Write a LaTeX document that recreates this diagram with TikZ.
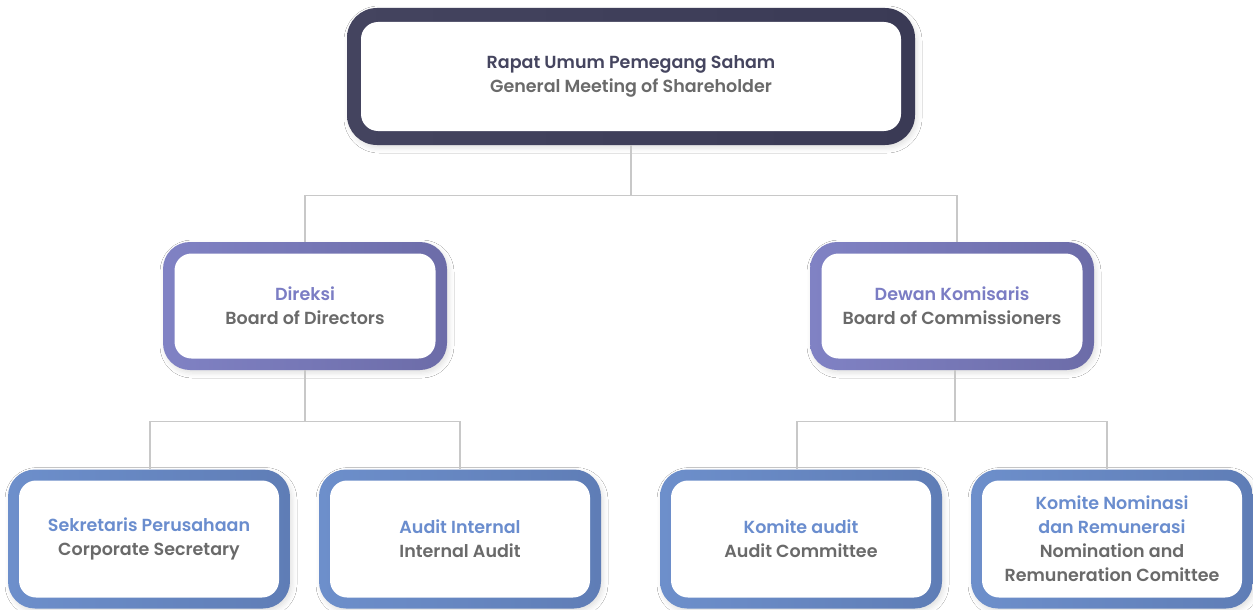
\documentclass[tikz,border=0pt]{standalone}
\usepackage{fontspec}
\setmainfont{Poppins}[BoldFont={* SemiBold}]
\usetikzlibrary{shadows.blur}
\definecolor{topL}{HTML}{44445F}
\definecolor{topR}{HTML}{3A3A55}
\definecolor{midL}{HTML}{8082C4}
\definecolor{midR}{HTML}{6C6CA8}
\definecolor{botL}{HTML}{6D8FCB}
\definecolor{botR}{HTML}{5F7DB6}
\definecolor{topT}{HTML}{45455F}
\definecolor{midT}{HTML}{7B7DC4}
\definecolor{botT}{HTML}{6A8DCE}
\definecolor{subT}{HTML}{6A6A6A}
\definecolor{lineC}{HTML}{C8C8C8}
\tikzset{
  card/.style n args={3}{rounded corners=#2, inner sep=0pt, align=center,
    font=\fontsize{17.5}{24}\selectfont\bfseries, text=subT,
    blur shadow={shadow xshift=2pt, shadow yshift=-3pt, shadow blur radius=5pt, shadow opacity=12},
    path picture={\fill[white, rounded corners=#3]
      ([shift={(#1,-#1)}]path picture bounding box.north west) rectangle
      ([shift={(-#1,#1)}]path picture bounding box.south east);}},
  topcard/.style={card={14pt}{30pt}{17pt}, left color=topL, right color=topR,
    minimum width=568pt, minimum height=137pt},
  midcard/.style={card={11.5pt}{27pt}{17pt}, left color=midL, right color=midR,
    minimum width=284pt, minimum height=128pt},
  botcard/.style={card={11pt}{27pt}{17pt}, left color=botL, right color=botR,
    minimum width=282pt, minimum height=139pt},
  conn/.style={draw=lineC, line width=1.2pt}
}
\begin{document}
\begin{tikzpicture}[x=1pt,y=1pt]
\useasboundingbox (0,0) rectangle (1253,-610);
\fill[white] (0,0) rectangle (1253,-610);
% boxes
\node[topcard] (top) at (631,-76.5) {\textcolor{topT}{Rapat Umum Pemegang Saham}\\General Meeting of Shareholder};
\node[midcard] (ml) at (305,-306) {\textcolor{midT}{Direksi}\\Board of Directors};
\node[midcard] (mr) at (952,-306) {\textcolor{midT}{Dewan Komisaris}\\Board of Commissioners};
\node[botcard] (b1) at (149,-539) {\textcolor{botT}{Sekretaris Perusahaan}\\Corporate Secretary};
\node[botcard] (b2) at (460,-539) {\textcolor{botT}{Audit Internal}\\Internal Audit};
\node[botcard] (b3) at (801,-539) {\textcolor{botT}{Komite audit}\\Audit Committee};
\node[botcard] (b4) at (1112,-539) {\textcolor{botT}{Komite Nominasi}\\\textcolor{botT}{dan Remunerasi}\\Nomination and\\Remuneration Comittee};
% connectors
\draw[conn] (top.south) -- ++(0,-50) coordinate (j1);
\draw[conn] (j1) -| (ml.north);
\draw[conn] (j1) -| ([xshift=5pt]mr.north);
\draw[conn] (ml.south) -- ++(0,-51) coordinate (j2);
\draw[conn] (j2) -| ([xshift=1pt]b1.north);
\draw[conn] (j2) -| (b2.north);
\draw[conn] ([xshift=3pt]mr.south) -- ++(0,-51) coordinate (j3);
\draw[conn] (j3) -| ([xshift=-4pt]b3.north);
\draw[conn] (j3) -| ([xshift=-5pt]b4.north);
\end{tikzpicture}
\end{document}
